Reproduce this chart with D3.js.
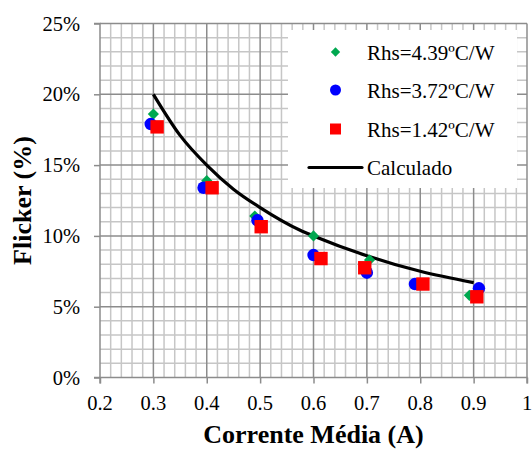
<!DOCTYPE html>
<html>
<head>
<meta charset="utf-8">
<script src="https://cdn.jsdelivr.net/npm/d3@7"></script>
</head>
<body style="margin:0">
<svg width="532" height="450"></svg>
<script>
"use strict";

// data
let xTicks = [0.2, 0.3, 0.4, 0.5, 0.6, 0.7, 0.8, 0.9, 1];
let yTicks = [0, 5, 10, 15, 20, 25];

let rhs439 = [[0.3, 18.6], [0.4, 13.9], [0.49, 11.4], [0.6, 10.0], [0.705, 8.3], [0.79, 6.6], [0.892, 5.8]];
let rhs372 = [[0.295, 17.9], [0.394, 13.4], [0.495, 11.1], [0.6, 8.65], [0.7, 7.4], [0.79, 6.6], [0.91, 6.3]];
let rhs142 = [[0.307, 17.7], [0.41, 13.4], [0.502, 10.65], [0.614, 8.4], [0.696, 7.75], [0.805, 6.6], [0.906, 5.7]];
let calculado = [[0.3, 20.0], [0.35, 17.1], [0.4, 15.0], [0.45, 13.3], [0.5, 12.0], [0.575, 10.4], [0.6, 10.0], [0.7, 8.6], [0.8, 7.5], [0.9, 6.7]];

let legendLabels = ["Rhs=4.39ºC/W", "Rhs=3.72ºC/W", "Rhs=1.42ºC/W", "Calculado"];

let svg = d3.select("svg");
let pLeft = 100, pRight = 527, pTop = 23.5, pBottom = 377.5;

let x = d3.scaleLinear().domain([0.2, 1]).range([pLeft, pRight]);
let y = d3.scaleLinear().domain([0, 25]).range([pBottom, pTop]);

let grid = svg.append("g");
// minor grid
grid.selectAll("line.mx")
    .data(d3.range(0.22, 1.0, 0.02).filter(v => Math.abs(v * 10 - Math.round(v * 10)) > 0.01))
    .enter().append("line")
    .attr("x1", d => x(d)).attr("x2", d => x(d))
    .attr("y1", pTop).attr("y2", pBottom)
    .attr("stroke", "#c6c6c6").attr("stroke-width", 1.5);
grid.selectAll("line.my")
    .data(d3.range(1, 25, 1).filter(v => v % 5 !== 0))
    .enter().append("line")
    .attr("y1", d => y(d)).attr("y2", d => y(d))
    .attr("x1", pLeft).attr("x2", pRight)
    .attr("stroke", "#c6c6c6").attr("stroke-width", 1.5);
// major grid
grid.selectAll("line.Mx")
    .data(xTicks.slice(1))
    .enter().append("line")
    .attr("x1", d => x(d)).attr("x2", d => x(d))
    .attr("y1", pTop).attr("y2", pBottom)
    .attr("stroke", "#8c8c8c").attr("stroke-width", 1.5);
grid.selectAll("line.My")
    .data(yTicks.slice(1))
    .enter().append("line")
    .attr("y1", d => y(d)).attr("y2", d => y(d))
    .attr("x1", pLeft).attr("x2", pRight)
    .attr("stroke", "#8c8c8c").attr("stroke-width", 1.5);

// axes, tick labels drawn separately
let xAxis = svg.append("g")
    .attr("transform", "translate(0," + pBottom + ")")
    .call(d3.axisBottom(x).tickValues(xTicks).tickFormat("").tickSize(6));
let yAxis = svg.append("g")
    .attr("transform", "translate(" + pLeft + ",0)")
    .call(d3.axisLeft(y).tickValues(yTicks).tickFormat("").tickSize(6));

[xAxis, yAxis].forEach(a => {
    a.attr("font-family", null);
    a.selectAll("text").remove();
    a.select(".domain").attr("stroke", "#8c8c8c").attr("stroke-width", 1.5);
    a.selectAll(".tick line").attr("stroke", "#8c8c8c").attr("stroke-width", 1.5);
});
xAxis.select(".domain").attr("d", "M" + pLeft + ",6V0H" + pRight + "V6");
yAxis.select(".domain").attr("d", "M-6," + pBottom + "H0V" + pTop + "H-6");

svg.append("g").selectAll("text")
    .data(xTicks).enter().append("text")
    .attr("x", d => x(d)).attr("y", pBottom + 32)
    .attr("text-anchor", "middle")
    .style("font-size", "20.5px")
    .text(d => d === 1 ? "1" : d3.format(".1f")(d));
svg.append("g").selectAll("text")
    .data(yTicks).enter().append("text")
    .attr("x", pLeft - 20).attr("y", d => y(d) + 7)
    .attr("text-anchor", "end")
    .style("font-size", "20.5px")
    .text(d => d + "%");

// legend box
let lg = svg.append("g");
lg.append("rect")
    .attr("x", 288).attr("y", 30).attr("width", 229).attr("height", 158)
    .attr("fill", "#fff");

// calculated curve
let curve = d3.line().x(d => x(d[0])).y(d => y(d[1])).curve(d3.curveMonotoneX);
svg.append("path")
    .datum(calculado)
    .attr("d", curve)
    .attr("fill", "none")
    .attr("stroke", "#000")
    .attr("stroke-width", 3.2);

// markers
let diamond = d3.symbol().type(d3.symbolDiamond2);
svg.append("g").selectAll("path")
    .data(rhs439).enter().append("path")
    .attr("d", diamond.size(80)())
    .attr("transform", d => "translate(" + x(d[0]) + "," + y(d[1]) + ")")
    .attr("fill", "#00a850");
svg.append("g").selectAll("circle")
    .data(rhs372).enter().append("circle")
    .attr("cx", d => x(d[0])).attr("cy", d => y(d[1])).attr("r", 6.2)
    .attr("fill", "#0000ff");
svg.append("g").selectAll("rect")
    .data(rhs142).enter().append("rect")
    .attr("x", d => x(d[0]) - 6.7).attr("y", d => y(d[1]) - 6.7)
    .attr("width", 13.4).attr("height", 13.4)
    .attr("fill", "#ff0000");

// legend entries
let ly = [52, 90, 129, 167.5];
lg.append("path").attr("d", d3.symbol().type(d3.symbolDiamond2).size(55)())
    .attr("transform", "translate(335.5," + ly[0] + ")").attr("fill", "#00a850");
lg.append("circle").attr("cx", 335.5).attr("cy", ly[1]).attr("r", 5.5).attr("fill", "#0000ff");
lg.append("rect").attr("x", 330).attr("y", ly[2] - 5.5).attr("width", 11).attr("height", 11).attr("fill", "#ff0000");
lg.append("line").attr("x1", 309).attr("x2", 362).attr("y1", ly[3]).attr("y2", ly[3])
    .attr("stroke", "#000").attr("stroke-width", 3.2).attr("stroke-linecap", "round");
lg.selectAll("text.l")
    .data(legendLabels).enter().append("text")
    .attr("x", 367).attr("y", (d, i) => ly[i] + 7.5)
    .style("font-size", "21px")
    .text(d => d);

// axis titles
svg.append("text")
    .attr("x", (pLeft + pRight) / 2).attr("y", 443)
    .attr("text-anchor", "middle")
    .style("font-size", "26px").style("font-weight", "bold")
    .text("Corrente Média (A)");
svg.append("text")
    .attr("transform", "translate(31," + (pTop + pBottom) / 2 + ") rotate(-90)")
    .attr("text-anchor", "middle")
    .style("font-size", "26px").style("font-weight", "bold")
    .text("Flicker (%)");

svg.selectAll("text").style("font-family", "Times New Roman").attr("fill", "#000");
</script>
</body>
</html>
